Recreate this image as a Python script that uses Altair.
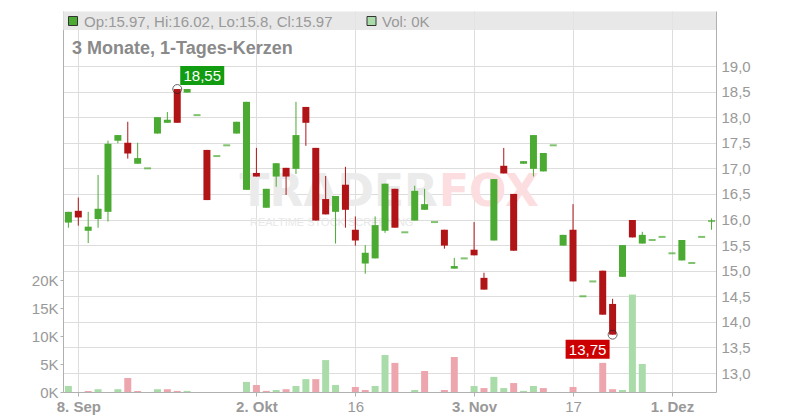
import altair as alt
import pandas as pd

# ---------------- data ----------------
day_index = list(range(66))
open_ = [15.94, 16.17, 15.78, 16.01, 16.15, 17.54, 17.50, 17.09, 17.00, 17.68,
         17.89, 18.55, 18.48, 18.04, 17.36, 17.24, 17.45, 17.68, 16.58, 16.91,
         16.23, 16.84, 17.01, 16.99, 18.20, 17.40, 16.40, 16.15, 16.68, 15.80,
         15.14, 15.24, 15.78, 16.60, 15.75, 15.98, 16.19, 15.95, 15.80, 15.04,
         15.24, 15.41, 14.86, 15.59, 17.05, 16.50, 17.09, 16.99, 16.94, 17.45,
         15.49, 15.80, 14.50, 14.79, 15.00, 14.35, 14.88, 15.99, 15.53, 15.60,
         15.66, 15.34, 15.20, 15.15, 15.66, 15.97]
high = [16.15, 16.43, 16.15, 16.87, 17.54, 17.65, 17.91, 17.50, 17.00, 18.00,
        18.10, 18.55, 18.55, 18.04, 17.36, 17.24, 17.45, 17.91, 18.30, 17.40,
        16.60, 17.10, 17.01, 18.30, 18.20, 17.40, 16.85, 16.46, 17.03, 16.06,
        15.50, 16.06, 16.70, 16.60, 15.75, 16.66, 16.60, 15.95, 15.80, 15.25,
        15.24, 15.95, 14.96, 16.79, 17.40, 16.50, 17.14, 17.65, 17.30, 17.45,
        15.70, 16.30, 14.50, 14.79, 15.00, 14.45, 15.50, 15.99, 15.76, 15.60,
        15.66, 15.34, 15.60, 15.15, 15.66, 16.02]
low = [15.84, 15.88, 15.54, 15.84, 15.96, 17.49, 17.19, 17.09, 17.00, 17.68,
       17.89, 17.89, 18.48, 18.04, 16.38, 17.24, 17.45, 17.68, 16.58, 16.84,
       16.23, 16.64, 16.48, 16.89, 17.44, 15.98, 16.10, 15.53, 15.84, 15.49,
       14.94, 15.24, 15.74, 15.84, 15.75, 15.98, 16.19, 15.95, 15.43, 15.04,
       15.24, 15.30, 14.63, 15.59, 16.90, 15.39, 17.09, 16.84, 16.94, 17.45,
       15.49, 14.79, 14.50, 14.79, 14.14, 13.75, 14.88, 15.65, 15.53, 15.60,
       15.66, 15.34, 15.20, 15.15, 15.66, 15.80]
close = [16.15, 16.04, 15.86, 16.21, 17.48, 17.65, 17.29, 17.20, 17.00, 18.00,
         17.95, 17.89, 18.55, 18.04, 16.38, 17.24, 17.45, 17.91, 18.30, 16.84,
         16.60, 17.10, 16.84, 17.65, 17.89, 15.98, 16.10, 16.46, 16.19, 15.59,
         15.35, 15.89, 16.70, 15.84, 15.75, 16.56, 16.30, 15.95, 15.49, 15.09,
         15.24, 15.30, 14.63, 16.79, 16.90, 15.39, 17.14, 17.65, 17.30, 17.45,
         15.70, 14.79, 14.50, 14.79, 14.14, 13.75, 15.50, 15.65, 15.70, 15.60,
         15.66, 15.34, 15.60, 15.15, 15.66, 15.97]
volume = [1070, 0, 180, 500, 0, 500, 2500, 180, 0, 500,
          500, 200, 200, 0, 0, 0, 0, 0, 1800, 1250,
          200, 360, 500, 1070, 2300, 2300, 5700, 1250, 0, 900,
          360, 1070, 6600, 5200, 0, 360, 3750, 0, 360, 6250,
          0, 1070, 700, 2700, 700, 1600, 200, 1070, 700, 0,
          0, 900, 0, 0, 5200, 500, 360, 17400, 5000, 0,
          0, 0, 0, 0, 0, 0]

x_tick_index = [1, 19, 29, 41, 51, 61]
x_tick_labels = ["8. Sep", "2. Okt", "16", "3. Nov", "17", "1. Dez"]
x_tick_bold = [1, 19, 41, 61]
price_ticks = [13.0, 13.5, 14.0, 14.5, 15.0, 15.5, 16.0, 16.5, 17.0, 17.5, 18.0, 18.5, 19.0]
volume_ticks = [0, 5000, 10000, 15000, 20000]

high_mark_index, high_mark_price = 11, 18.55
low_mark_index, low_mark_price = 55, 13.75

legend_text = "Op:15.97, Hi:16.02, Lo:15.8, Cl:15.97"
vol_text = "Vol: 0K"
title_text = "3 Monate, 1-Tages-Kerzen"

# ---------------- styling ----------------
FONT = "Liberation Sans"
GREEN = "#4aaa32"
RED = "#b01416"
VGREEN = "#aadcaa"
VPINK = "#eea6ae"
LABEL = "#999999"
W, H = 653, 381

df = pd.DataFrame({"i": day_index, "open": open_, "high": high, "low": low,
                   "close": close, "volume": volume})
df["dir"] = ["up" if c >= o else "down" for o, c in zip(open_, close)]
df["body_top"] = df[["open", "close"]].max(axis=1)
df["body_bot"] = df[["open", "close"]].min(axis=1)
prev = [close[0]] + close[:-1]
df["vdir"] = ["up" if c >= p else "down" for c, p in zip(close, prev)]

xexpr = " : ".join(f"datum.value == {v} ? '{l}'" for v, l in zip(x_tick_index, x_tick_labels)) + " : ''"
bold_expr = f"indexof({x_tick_bold}, datum.value) >= 0 ? 'bold' : 'normal'"

xscale = alt.Scale(domain=[-0.546, 65.45], nice=False, zero=False, padding=0)
xaxis = alt.Axis(values=x_tick_index, labelExpr=xexpr, title=None, grid=True,
                 gridColor="#dddddd", tickSize=4, labelPadding=3,
                 labelFontWeight=alt.ExprRef(expr=bold_expr), labelFlush=False)
X = alt.X("i:Q", scale=xscale, axis=xaxis)

pscale = alt.Scale(domain=[12.629, 20.075], nice=False, zero=False, padding=0)
paxis = alt.Axis(orient="right", values=price_ticks, title=None, grid=True,
                 gridColor="#dddddd", ticks=False, labelPadding=5,
                 labelExpr="replace(format(datum.value, '.1f'), '.', ',')")
vscale = alt.Scale(domain=[0, 68036], nice=False, zero=True, padding=0)
vaxis = alt.Axis(orient="left", values=volume_ticks, title=None, grid=False,
                 tickSize=3, labelPadding=2, labelExpr="datum.value / 1000 + 'K'")

ccolor = alt.condition("datum.dir == 'up'", alt.value(GREEN), alt.value(RED))
vcolor = alt.condition("datum.vdir == 'up'", alt.value(VGREEN), alt.value(VPINK))

base = alt.Chart(df)

vol = base.mark_bar(width=7).encode(
    x=X, y=alt.Y("volume:Q", scale=vscale, axis=vaxis), color=vcolor
).transform_filter("datum.volume > 0")

wicks = base.mark_rule(strokeWidth=1).encode(
    x=X, y=alt.Y("low:Q", scale=pscale, axis=paxis), y2="high:Q", color=ccolor)
bodies = base.mark_bar(width=7).encode(
    x=X, y=alt.Y("body_bot:Q", scale=pscale, axis=paxis), y2="body_top:Q", color=ccolor
).transform_filter("datum.open != datum.close")
dojis = base.mark_tick(orient="horizontal", size=7, thickness=2).encode(
    x=X, y=alt.Y("close:Q", scale=pscale, axis=paxis), color=ccolor
).transform_filter("datum.open == datum.close")

ann_hi = pd.DataFrame({"i": [high_mark_index], "p": [high_mark_price],
                       "t": [f"{high_mark_price:.2f}".replace(".", ",")]})
ann_lo = pd.DataFrame({"i": [low_mark_index], "p": [low_mark_price],
                       "t": [f"{low_mark_price:.2f}".replace(".", ",")]})
PY = alt.Y("p:Q", scale=pscale, axis=paxis)

hi_box = alt.Chart(ann_hi).mark_rect(color="#119c11", xOffset=3, x2Offset=47, yOffset=-23, y2Offset=-4).encode(
    x=X, x2="i:Q", y=PY, y2="p:Q")
hi_txt = alt.Chart(ann_hi).mark_text(color="white", fontSize=15, font=FONT, dx=25, dy=-13).encode(
    x=X, y=PY, text="t:N")
lo_box = alt.Chart(ann_lo).mark_rect(color="#cc0000", xOffset=-47, x2Offset=-3, yOffset=5, y2Offset=24).encode(
    x=X, x2="i:Q", y=PY, y2="p:Q")
lo_txt = alt.Chart(ann_lo).mark_text(color="white", fontSize=15, font=FONT, dx=-25, dy=15).encode(
    x=X, y=PY, text="t:N")
circles = alt.Chart(pd.concat([ann_hi, ann_lo])).mark_point(
    shape="circle", size=80, filled=False, color="#222222", strokeWidth=1).encode(x=X, y=PY)

price = alt.layer(wicks, bodies, dojis, hi_box, hi_txt, lo_box, lo_txt, circles)

one = pd.DataFrame({"k": [0]})


def txt(s, x, y, size, color, weight="normal", align="left", font=FONT):
    return alt.Chart(one).mark_text(text=s, fontSize=size, color=color, fontWeight=weight,
                                    align=align, baseline="alphabetic", font=font).encode(
        x=alt.value(x), y=alt.value(y))


def box(x, x2, y, y2, color, stroke=None, opacity=1.0):
    kw = dict(color=color, opacity=opacity)
    if stroke:
        kw.update(stroke=stroke, strokeWidth=1)
    return alt.Chart(one).mark_rect(**kw).encode(
        x=alt.value(x), x2=alt.value(x2), y=alt.value(y), y2=alt.value(y2))


watermark = alt.layer(
    txt("TRADER", 375, 195, 44, "#ebebeb", "bold", "right", "DejaVu Sans"),
    txt("FOX", 376, 195, 44, "#fcdde0", "bold", "left", "DejaVu Sans"),
    txt("REALTIME STOCK SCREENING", 187, 215, 11, "#e8e8e8"),
)

header = alt.layer(
    box(0, W, 0.5, 19, "#e4e4e4", opacity=0.85),
    box(5.5, 14.5, 5.5, 14.5, GREEN, stroke="#333333"),
    txt(legend_text, 21, 15.5, 15, LABEL),
    box(304, 313, 5.5, 14.5, VGREEN, stroke="#333333"),
    txt(vol_text, 319, 15.5, 15, LABEL),
    txt(title_text, 9, 43, 18, "#8a8a8a", "bold"),
)

chart = alt.layer(watermark, vol, price, header).resolve_scale(y="independent").properties(
    width=W, height=H,
    autosize=alt.AutoSizeParams(type="none"),
    padding={"left": 55, "top": 3, "right": 70, "bottom": 25},
).configure_view(stroke=None).configure_axis(
    domainColor="#b0b0b0", tickColor="#b0b0b0", labelColor=LABEL,
    labelFont=FONT, labelFontSize=15,
)

chart.save("out.html", embed_options={"renderer": "svg", "actions": False})
